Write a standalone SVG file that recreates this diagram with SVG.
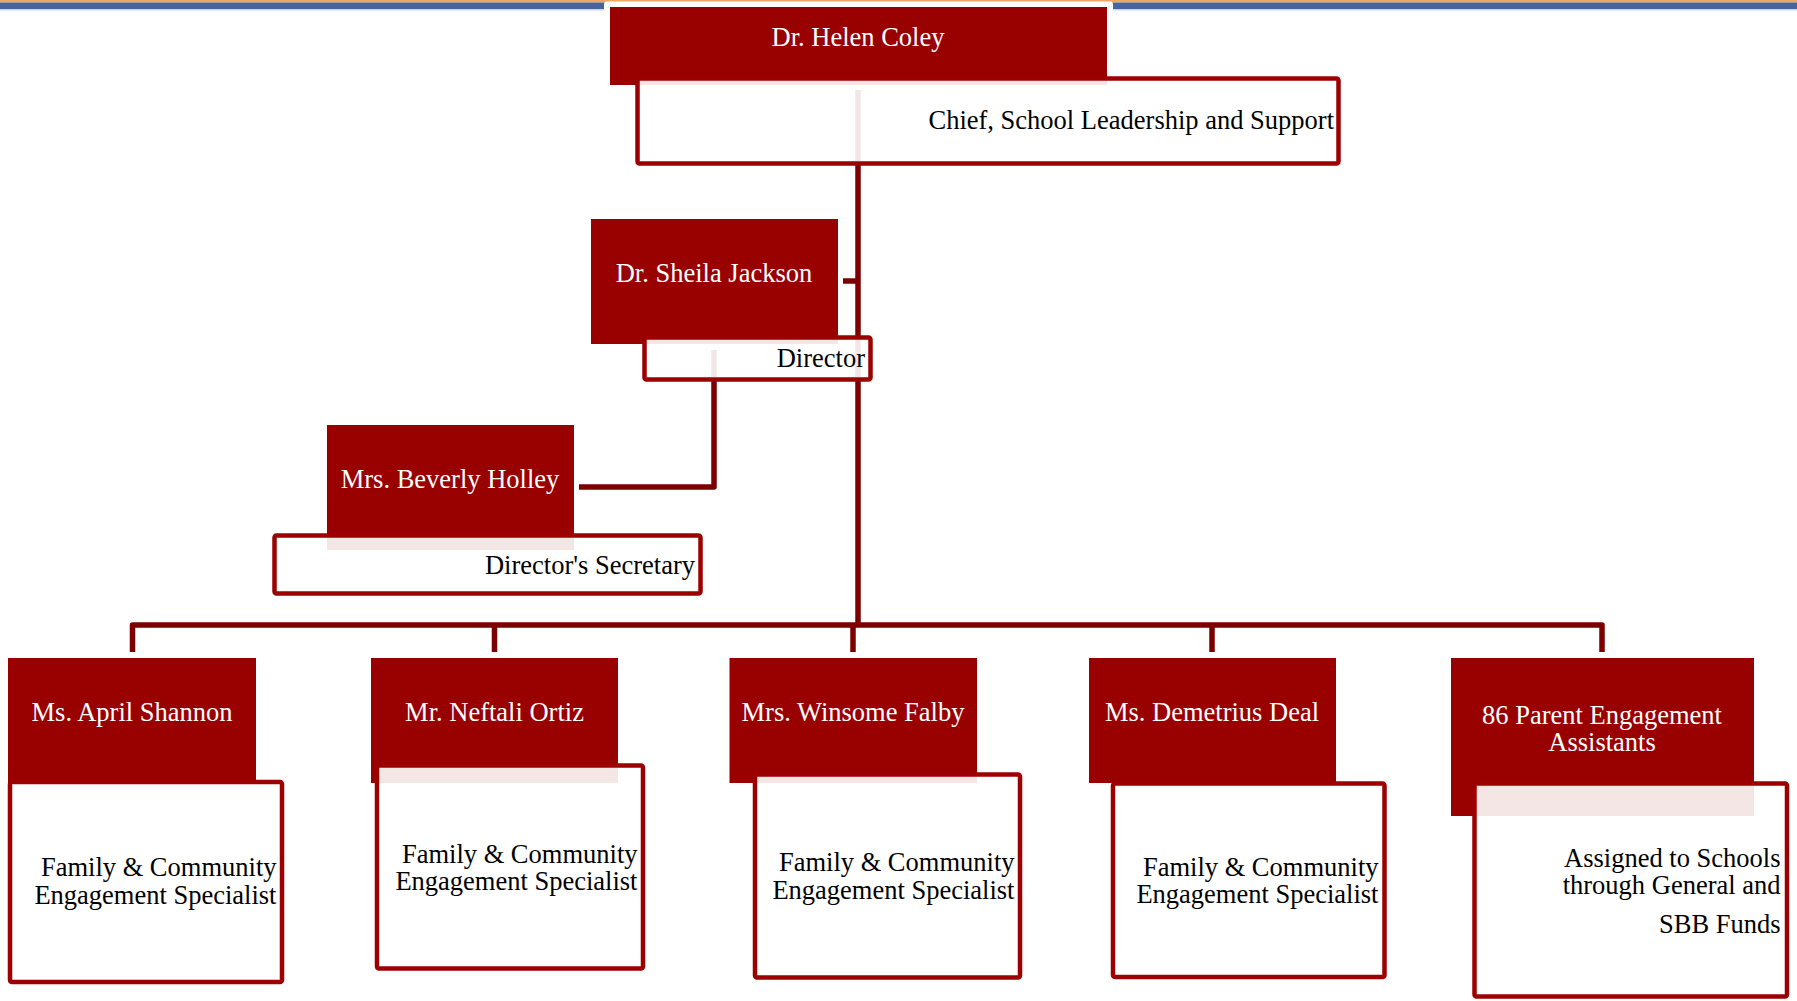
<svg xmlns="http://www.w3.org/2000/svg" width="1797" height="1001" viewBox="0 0 1797 1001">
<style>
.red{fill:#990000}
.ov{fill:#ffffff;fill-opacity:0.9;stroke:#9c0000;stroke-width:4.5;stroke-linejoin:round}
.t{font-family:"Liberation Serif","Times New Roman",serif;font-size:26.5px}
.name{fill:#ffffff;text-anchor:middle}
.role{fill:#000000;text-anchor:end}
.conn{stroke:#7d0000;stroke-width:5.5;fill:none;stroke-linejoin:round}
</style>
<rect width="1797" height="1001" fill="#ffffff"/>
<g id="topbar">
<rect x="0" y="0" width="1797" height="2.5" fill="#f0a860"/>
<rect x="0" y="2.5" width="1797" height="6.8" fill="#4466a0"/>
<rect x="0" y="9.3" width="1797" height="1.2" fill="#c8d8ee"/>
<rect x="604" y="1.5" width="509" height="12" rx="3" fill="#ffffff"/>
</g>
<g id="connectors">
<line class="conn" x1="858" y1="90" x2="858" y2="625"/>
<line class="conn" x1="843" y1="281" x2="858" y2="281"/>
<polyline class="conn" points="714,350 714,487 579,487"/>
<polyline class="conn" points="132.5,652 132.5,625 1602,625 1602,652"/>
<line class="conn" x1="494.5" y1="625" x2="494.5" y2="652"/>
<line class="conn" x1="853" y1="625" x2="853" y2="652"/>
<line class="conn" x1="1212" y1="625" x2="1212" y2="652"/>
</g>
<g id="node-coley">
<rect class="red" x="610" y="7" width="497" height="78"/>
<rect class="ov" x="637.5" y="78.5" width="701" height="85" rx="2"/>
<text class="t name" x="858" y="46">Dr. Helen Coley</text>
<text class="t role" x="1334" y="129">Chief, School Leadership and Support</text>
</g>
<g id="node-jackson">
<rect class="red" x="591" y="219" width="247" height="125"/>
<rect class="ov" x="644.5" y="337.5" width="226" height="42" rx="2"/>
<text class="t name" x="714" y="282">Dr. Sheila Jackson</text>
<text class="t role" x="865" y="367">Director</text>
</g>
<g id="node-holley">
<rect class="red" x="327" y="425" width="247" height="125"/>
<rect class="ov" x="274.5" y="535.5" width="426" height="58" rx="2"/>
<text class="t name" x="450" y="488">Mrs. Beverly Holley</text>
<text class="t role" x="695" y="574">Director's Secretary</text>
</g>
<g id="node-shannon">
<rect class="red" x="8" y="658" width="248" height="125"/>
<rect class="ov" x="10" y="782" width="272" height="200" rx="2"/>
<text class="t name" x="132" y="721">Ms. April Shannon</text>
<text class="t role" x="276.5" y="876">Family &amp; Community</text>
<text class="t role" x="276.5" y="904">Engagement Specialist</text>
</g>
<g id="node-ortiz">
<rect class="red" x="371" y="658" width="247" height="125"/>
<rect class="ov" x="377" y="765.5" width="266" height="203" rx="2"/>
<text class="t name" x="494.5" y="721">Mr. Neftali Ortiz</text>
<text class="t role" x="637.5" y="863">Family &amp; Community</text>
<text class="t role" x="637.5" y="890">Engagement Specialist</text>
</g>
<g id="node-falby">
<rect class="red" x="729.5" y="658" width="247.5" height="125"/>
<rect class="ov" x="755" y="774.5" width="265" height="203" rx="2"/>
<text class="t name" x="853" y="721">Mrs. Winsome Falby</text>
<text class="t role" x="1014.5" y="871">Family &amp; Community</text>
<text class="t role" x="1014.5" y="899">Engagement Specialist</text>
</g>
<g id="node-deal">
<rect class="red" x="1089" y="658" width="247" height="125"/>
<rect class="ov" x="1113" y="783.5" width="271.5" height="193.5" rx="2"/>
<text class="t name" x="1212" y="721">Ms. Demetrius Deal</text>
<text class="t role" x="1378.5" y="876">Family &amp; Community</text>
<text class="t role" x="1378.5" y="903">Engagement Specialist</text>
</g>
<g id="node-parent-assistants">
<rect class="red" x="1451" y="658" width="303" height="158"/>
<rect class="ov" x="1474.5" y="783.5" width="312.5" height="213" rx="2"/>
<text class="t name" x="1602" y="724">86 Parent Engagement</text>
<text class="t name" x="1602" y="751">Assistants</text>
<text class="t role" x="1780.5" y="867">Assigned to Schools</text>
<text class="t role" x="1780.5" y="894">through General and</text>
<text class="t role" x="1780.5" y="933">SBB Funds</text>
</g>
</svg>
